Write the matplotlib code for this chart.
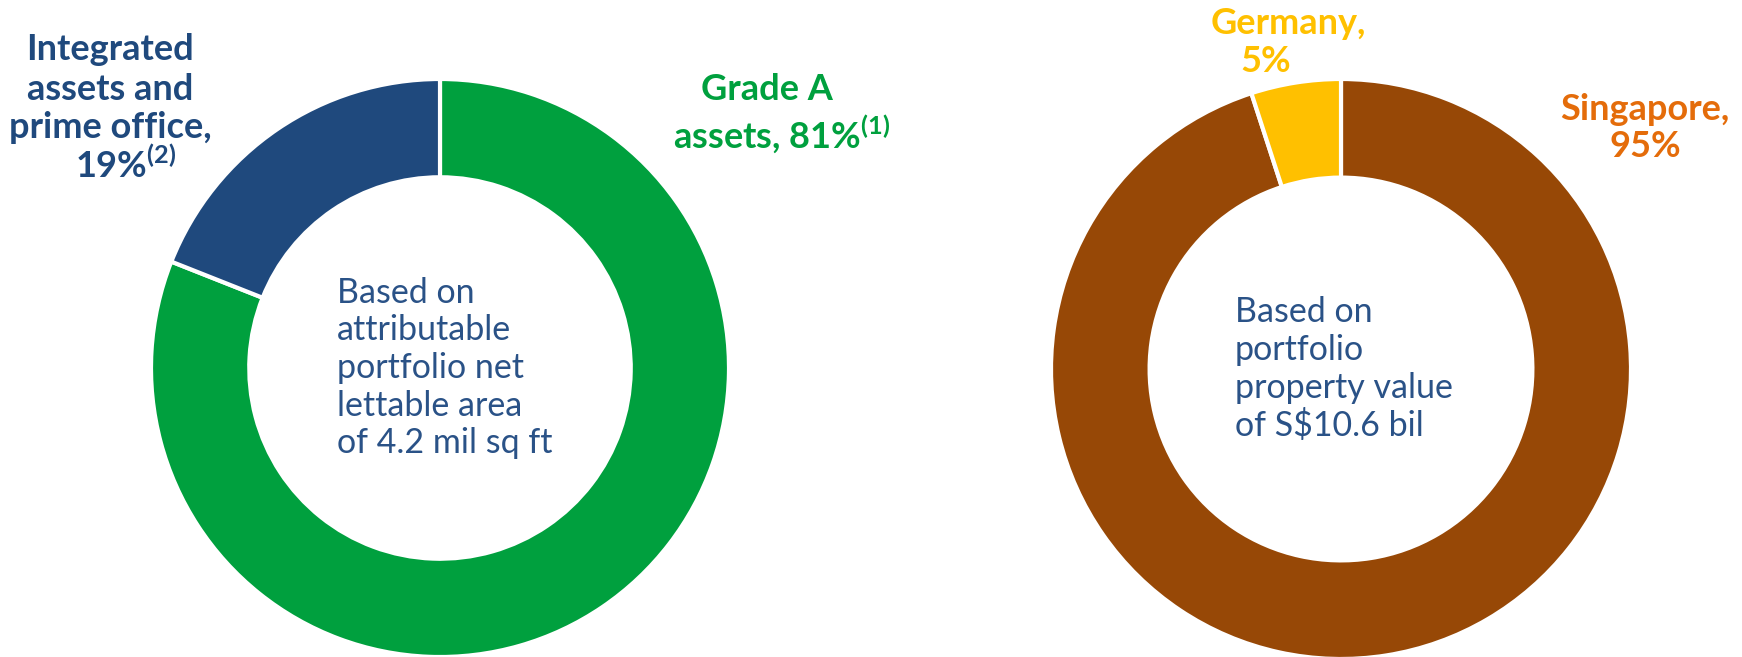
import matplotlib.pyplot as plt

plt.rcParams['font.family'] = ['Lato', 'DejaVu Sans']
plt.rcParams['mathtext.fontset'] = 'custom'
plt.rcParams['mathtext.rm'] = 'Lato:bold'

# data
type_labels = ["Grade A assets", "Integrated assets and prime office"]
type_values = [81, 19]
type_colors = ["#00A03E", "#1F497D"]

geo_labels = ["Singapore", "Germany"]
geo_values = [95, 5]
geo_colors = ["#974806", "#FFC000"]

W, H = 1742, 657
fig = plt.figure(figsize=(W / 100, H / 100), dpi=100)


def px(x, y):
    return x / W, 1 - y / H


def donut(cx, cy, r, values, colors):
    ax = fig.add_axes([(cx - r) / W, (H - cy - r) / H, 2 * r / W, 2 * r / H])
    ax.pie(values, colors=colors, startangle=90, counterclock=False, radius=1,
           wedgeprops=dict(width=0.34, edgecolor="white", linewidth=3))
    ax.set_xlim(-1, 1)
    ax.set_ylim(-1, 1)
    ax.set_aspect("equal")
    ax.axis("off")
    return ax


donut(440, 368, 289, type_values, type_colors)
donut(1341, 369, 290, geo_values, geo_colors)

bold = dict(fontsize=26, fontweight="bold", ha="center", va="center")

# left labels
blue = "#1F497D"
green = "#00A03E"
fig.text(*px(110, 50), "Integrated", color=blue, **bold)
fig.text(*px(110, 90), "assets and", color=blue, **bold)
fig.text(*px(110, 128), "prime office,", color=blue, **bold)
fig.text(*px(126, 165), r"19%$^{\mathregular{(2)}}$", color=blue, **bold)

fig.text(*px(767, 89), "Grade A", color=green, **bold)
fig.text(*px(782, 134), r"assets, 81%$^{\mathregular{(1)}}$", color=green, **bold)

# right labels
fig.text(*px(1288, 24), "Germany,", color="#FFC000", **bold)
fig.text(*px(1266, 62), "5%", color="#FFC000", **bold)
fig.text(*px(1645, 110), "Singapore,", color="#E46C0A", **bold)
fig.text(*px(1645, 147), "95%", color="#E46C0A", **bold)

# centre notes
note = dict(fontsize=24.5, color="#2A5287", ha="left", va="center")
left_note = ["Based on", "attributable", "portfolio net", "lettable area", "of 4.2 mil sq ft"]
for i, line in enumerate(left_note):
    fig.text(*px(337, 293 + 37.5 * i), line, **note)

right_note = ["Based on", "portfolio", "property value", "of S$10.6 bil"]
for i, line in enumerate(right_note):
    fig.text(*px(1235, 312 + 38 * i), line, **note)

fig.savefig("out.png", dpi=100)
